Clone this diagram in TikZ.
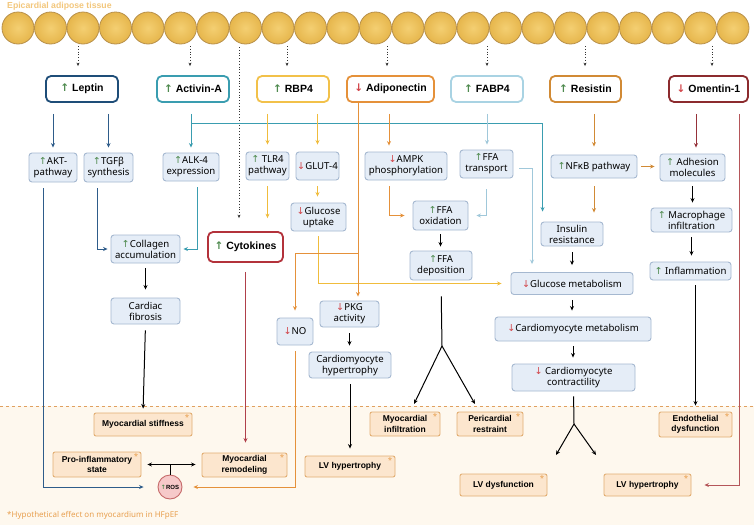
\documentclass[tikz,border=0pt]{standalone}
\usepackage{fontspec}
\setmainfont{Noto Sans}
\newfontfamily\hfont{Liberation Sans}
\newfontfamily\dvfont{DejaVu Sans}
\usetikzlibrary{arrows.meta}
\definecolor{navy}{HTML}{1E4D78}
\definecolor{navyl}{HTML}{2E5C8A}
\definecolor{tealc}{HTML}{3A9DB0}
\definecolor{goldc}{HTML}{F2C14A}
\definecolor{goldl}{HTML}{F0BC3C}
\definecolor{adipoc}{HTML}{E5913A}
\definecolor{fabc}{HTML}{A9D3E3}
\definecolor{fabl}{HTML}{A0C8DA}
\definecolor{resc}{HTML}{D18A35}
\definecolor{omec}{HTML}{8C2B2E}
\definecolor{omel}{HTML}{96323A}
\definecolor{rosel}{HTML}{B5565A}
\definecolor{cytc}{HTML}{B3323B}
\definecolor{cytl}{HTML}{B0404A}
\definecolor{boxfl}{HTML}{E5EDF7}
\definecolor{boxln}{HTML}{A5B8D0}
\definecolor{obfl}{HTML}{FCE6CE}
\definecolor{obln}{HTML}{E2AE72}
\definecolor{rosfl}{HTML}{F6C9C9}
\definecolor{rosln}{HTML}{C66A6A}
\definecolor{upg}{HTML}{4E8A4E}
\definecolor{dnr}{HTML}{D2454A}
\definecolor{sepc}{HTML}{E0A060}
\definecolor{astc}{HTML}{E8A050}
\definecolor{titc}{HTML}{F3C77C}
\definecolor{cream}{HTML}{FEF8EE}
\definecolor{circin}{HTML}{F4CF72}
\definecolor{circout}{HTML}{E6B64C}
\definecolor{circln}{HTML}{B8904A}
\newcommand\upa{{\dvfont\color{upg}↑}}
\newcommand\dna{{\dvfont\color{dnr}↓}}
\begin{document}
\begin{tikzpicture}[x=1pt,y=-1pt,
  hdr/.style={draw, rounded corners=5pt, line width=1.8pt, fill=white, minimum height=26pt, inner sep=1pt, font=\hfont\bfseries\fontsize{10.5}{12}\selectfont},
  sbox/.style={draw=boxln, fill=boxfl, rounded corners=3pt, line width=0.9pt, inner sep=1pt, align=center, font=\fontsize{9.6}{11}\selectfont},
  obox/.style={draw=obln, fill=obfl, rounded corners=2pt, line width=0.9pt, inner sep=1pt, align=center, font=\hfont\bfseries\fontsize{8.5}{10.5}\selectfont,
    label={[anchor=north east, inner sep=0pt, xshift=-3pt, yshift=-2pt, text=astc, font=\fontsize{8}{8}\selectfont]north east:*}},
  con/.style={line width=1pt, -{Stealth[length=4.5pt,width=4pt]}},
  dotc/.style={line width=0.8pt, dotted, black!80, -{Stealth[length=3.5pt,width=3pt]}},
]
\useasboundingbox (0,0) rectangle (754,525);
\fill[white] (0,0) rectangle (754,525);
\fill[cream] (0,406) rectangle (754,525);
\draw[sepc, line width=0.9pt, dash pattern=on 3pt off 3pt] (0,406) -- (754,406);

% adipose cells
\foreach \i in {0,...,22}{
  \shade[inner color=circin, outer color=circout] (18+32.5*\i,28) circle (16pt);
  \draw[circln, line width=0.8pt] (18+32.5*\i,28) circle (16pt);
}
\node[anchor=west, text=titc, font=\hfont\bfseries\fontsize{8.7}{10}\selectfont, inner sep=0pt] (title) at (7,6) {Epicardial adipose tissue};

% headers
\node[hdr, draw=navy, minimum width=72pt] (leptin) at (82,89) {\upa\ Leptin};
\node[hdr, draw=tealc, minimum width=72pt] (activin) at (193,89) {\upa\ Activin-A};
\node[hdr, draw=goldc, minimum width=72pt] (rbp4) at (293,89) {\upa\ RBP4};
\node[hdr, draw=adipoc, minimum width=87pt] (adipo) at (390.5,89) {\dna\ Adiponectin};
\node[hdr, draw=fabc, minimum width=72pt] (fabp4) at (487,89) {\upa\ FABP4};
\node[hdr, draw=resc, minimum width=71pt] (resistin) at (585.5,89) {\upa\ Resistin};
\node[hdr, draw=omec, minimum width=79pt] (omentin) at (708.5,89) {\dna\ Omentin-1};

% second row
\node[sbox, minimum width=48pt, minimum height=29pt] (akt) at (53,167.5) {\upa AKT-\\pathway};
\node[sbox, minimum width=49pt, minimum height=29pt] (tgfb) at (108.5,167.5) {\upa TGFβ\\synthesis};
\node[sbox, minimum width=56pt, minimum height=28pt] (alk4) at (191,167) {\upa ALK-4\\expression};
\node[sbox, minimum width=43pt, minimum height=28pt] (tlr4) at (267.5,166) {\upa\ TLR4\\pathway};
\node[sbox, minimum width=43pt, minimum height=28pt] (glut4) at (317.5,166) {\dna GLUT-4};
\node[sbox, minimum width=82pt, minimum height=28pt] (ampk) at (406,166) {\dna AMPK\\phosphorylation};
\node[sbox, minimum width=53pt, minimum height=28pt] (ffat) at (486.5,164) {\upa FFA\\transport};
\node[sbox, minimum width=86pt, minimum height=23pt] (nfkb) at (594,166.5) {\upa NFκB pathway};
\node[sbox, minimum width=65pt, minimum height=27pt] (adhesion) at (692.5,167.5) {\upa\ Adhesion\\molecules};

% third row and below
\node[sbox, minimum width=69pt, minimum height=28pt] (collagen) at (145.5,249) {\upa Collagen\\accumulation};
\node[hdr, draw=cytc, minimum width=75pt, minimum height=30pt] (cytokines) at (245.5,247) {\upa\ Cytokines};
\node[sbox, minimum width=55pt, minimum height=28pt] (gupt) at (318.5,217) {\dna Glucose\\uptake};
\node[sbox, minimum width=55pt, minimum height=29pt] (ffaox) at (440.5,215.5) {\upa FFA\\oxidation};
\node[sbox, minimum width=62pt, minimum height=29pt] (ffadep) at (441,265.5) {\upa FFA\\deposition};
\node[sbox, minimum width=62pt, minimum height=24pt] (insulin) at (572,234) {Insulin\\resistance};
\node[sbox, minimum width=81pt, minimum height=24pt] (macro) at (691.5,220) {\upa\ Macrophage\\infiltration};
\node[sbox, minimum width=81pt, minimum height=18pt] (inflam) at (690.5,271) {\upa\ Inflammation};
\node[sbox, minimum width=122pt, minimum height=22pt] (glumet) at (572,283.5) {\dna Glucose metabolism};
\node[sbox, minimum width=156pt, minimum height=24pt] (cmmet) at (573,329) {\dna Cardiomyocyte metabolism};
\node[sbox, minimum width=123pt, minimum height=27pt] (cmcon) at (573.5,377.5) {\dna\ Cardiomyocyte\\contractility};
\node[sbox, minimum width=69pt, minimum height=26pt] (fibrosis) at (145.5,311) {Cardiac\\fibrosis};
\node[sbox, minimum width=36pt, minimum height=27pt] (no) at (295,331.5) {\dna NO};
\node[sbox, minimum width=59pt, minimum height=26pt] (pkg) at (349.5,314) {\dna PKG\\activity};
\node[sbox, minimum width=82pt, minimum height=26pt] (cmhyp) at (350,365) {Cardiomyocyte\\hypertrophy};

% bottom outcomes
\node[obox, minimum width=98pt, minimum height=23pt] (stiff) at (143,424.5) {Myocardial stiffness};
\node[obox, minimum width=88pt, minimum height=25pt] (proinf) at (97,464.5) {Pro-inflammatory\\state};
\node[obox, minimum width=85pt, minimum height=24pt] (remod) at (244.5,465) {Myocardial\\remodeling};
\node[circle, draw=rosln, fill=rosfl, line width=0.9pt, minimum size=24pt, inner sep=0pt, font=\hfont\bfseries\fontsize{6}{6}\selectfont] (ros) at (170,487) {\upa ROS};
\node[obox, minimum width=90pt, minimum height=21pt] (lvhypa) at (350,466.5) {LV hypertrophy};
\node[obox, minimum width=70pt, minimum height=24pt] (infil) at (405,424) {Myocardial\\infiltration};
\node[obox, minimum width=66pt, minimum height=24pt] (peri) at (490,424) {Pericardial\\restraint};
\node[obox, minimum width=73pt, minimum height=25pt] (endo) at (695.5,424.5) {Endothelial\\dysfunction};
\node[obox, minimum width=87pt, minimum height=22pt] (lvdys) at (503.5,485) {LV dysfunction};
\node[obox, minimum width=87pt, minimum height=22pt] (lvhypb) at (647.5,485) {LV hypertrophy};

\node[anchor=west, text=astc, font=\fontsize{8}{10}\selectfont, inner sep=0pt] (foot) at (7,515) {*Hypothetical effect on myocardium in HFpEF};

% dotted secretion arrows
\coordinate (dL) at (78,46);
\coordinate (dA) at (190,46);
\coordinate (dR) at (287,46);
\coordinate (dD) at (387,46);
\coordinate (dF) at (487,46);
\coordinate (dS) at (585,46);
\coordinate (dO) at (712,46);
\coordinate (dC) at (239,47);
\draw[dotc, shorten >=9pt] (dL) -- (dL |- leptin.north);
\draw[dotc, shorten >=9pt] (dA) -- (dA |- activin.north);
\draw[dotc, shorten >=9pt] (dR) -- (dR |- rbp4.north);
\draw[dotc, shorten >=9pt] (dD) -- (dD |- adipo.north);
\draw[dotc, shorten >=9pt] (dF) -- (dF |- fabp4.north);
\draw[dotc, shorten >=9pt] (dS) -- (dS |- resistin.north);
\draw[dotc, shorten >=9pt] (dO) -- (dO |- omentin.north);
\draw[dotc, shorten >=13pt] (dC) -- (dC |- cytokines.north);

% leptin
\draw[con, navyl, shorten <=11pt, shorten >=5pt] (leptin.south -| akt.north) -- (akt.north);
\draw[con, navyl, shorten <=11pt, shorten >=5pt] (leptin.south -| tgfb.north) -- (tgfb.north);
\draw[con, navyl, shorten <=6pt, shorten >=3pt] ([xshift=-11.5pt]tgfb.south) |- (collagen.west);
\draw[con, navyl, shorten <=6pt, shorten >=14pt] ([xshift=-10pt]akt.south) |- (ros.west);

% activin
\coordinate (tb) at (191,123);
\draw[con, tealc, shorten <=11pt, shorten >=5pt] (activin.south -| alk4.north) -- (alk4.north);
\draw[con, tealc, shorten >=10pt] (tb) -| ([xshift=2pt]insulin.north west);
\draw[con, tealc, shorten <=6pt, shorten >=3pt] ([xshift=6pt]alk4.south) |- (collagen.east);

% fibrosis chain
\draw[con, black, shorten <=5pt, shorten >=8pt] (collagen.south) -- (fibrosis.north);
\draw[con, black, shorten <=6pt, shorten >=4pt] (fibrosis.south) -- (stiff.north);

% cytokines
\draw[con, cytl, shorten <=9pt, shorten >=10pt] (cytokines.south) -- (cytokines.south |- remod.north);

% RBP4
\draw[con, goldl, shorten <=11pt, shorten >=7pt] (rbp4.south -| tlr4.north) -- (tlr4.north);
\draw[con, goldl, shorten <=11pt, shorten >=7pt] (rbp4.south -| glut4.north) -- (glut4.north);
\draw[con, goldl, shorten <=6pt, shorten >=13pt] (tlr4.south) -- (tlr4.south |- cytokines.north);
\draw[con, goldl, shorten <=6pt, shorten >=6pt] (glut4.south) -- (glut4.south |- gupt.north);
\draw[con, goldl, shorten <=5pt, shorten >=9pt] (gupt.south) |- (glumet.west);

% adiponectin
\coordinate (adb) at (358,253);
\draw[con, adipoc, shorten >=4pt] ([xshift=-32.5pt]adipo.south) -- ([xshift=8.5pt]pkg.north);
\draw[con, adipoc, shorten >=7pt] (adb) -| (no.north);
\draw[con, adipoc, shorten <=11pt, shorten >=6pt] ([xshift=-1.5pt]adipo.south) -- ([xshift=-17pt]ampk.north);
\draw[con, adipoc, shorten <=6pt, shorten >=8pt] ([xshift=-17pt]ampk.south) |- (ffaox.west);
\draw[con, adipoc, shorten <=6pt, shorten >=11pt] (no.south) |- (ros.east);

% FABP4
\draw[con, fabl, shorten <=11pt, shorten >=5pt] (fabp4.south) -- (fabp4.south |- ffat.north);
\draw[con, fabl, shorten <=11pt, shorten >=8pt] (ffat.south) |- (ffaox.east);
\draw[con, fabl, shorten <=6pt, shorten >=8pt] ([yshift=-4pt]ffat.east) -| ([xshift=-40pt]glumet.north);
\draw[con, black, shorten <=4pt, shorten >=4pt] (ffaox.south) -- (ffaox.south |- ffadep.north);

% FFA fork
\coordinate (fa) at (442,346);
\coordinate (fal) at (414,404);
\coordinate (far) at (475,404);
\draw[line width=1pt, black, shorten <=16pt] (ffadep.south) -- (fa);
\draw[con, black] (fa) -- (fal);
\draw[con, black] (fa) -- (far);

% PKG chain
\draw[con, black, shorten <=6pt, shorten >=6pt] (pkg.south) -- (pkg.south |- cmhyp.north);
\draw[con, black, shorten <=6pt, shorten >=7pt] (cmhyp.south) -- (cmhyp.south |- lvhypa.north);

% resistin
\draw[con, resc, shorten <=11pt, shorten >=8pt] (resistin.south -| nfkb.north) -- (nfkb.north);
\draw[con, resc, shorten <=4pt, shorten >=5pt] (nfkb.east) -- (nfkb.east -| adhesion.west);
\draw[con, resc, shorten <=8pt, shorten >=9pt] (nfkb.south) -- (nfkb.south |- insulin.north);
\draw[con, black, shorten <=6pt, shorten >=7pt] (insulin.south) -- (insulin.south |- glumet.north);
\draw[con, black, shorten <=5pt, shorten >=6pt] (glumet.south) -- (glumet.south |- cmmet.north);
\draw[con, black, shorten <=5pt, shorten >=6pt] (cmmet.south) -- (cmmet.south |- cmcon.north);

% contractility fork
\coordinate (fb) at (574,424);
\coordinate (fbl) at (556,455);
\coordinate (fbr) at (596,455);
\draw[line width=1pt, black, shorten <=5pt] (cmcon.south) -- (fb);
\draw[con, black] (fb) -- (fbl);
\draw[con, black] (fb) -- (fbr);

% omentin
\draw[con, omel, shorten <=11pt, shorten >=6pt] ([xshift=-12.5pt]omentin.south) -- ([xshift=3.5pt]adhesion.north);
\draw[con, rosel, shorten <=11pt, shorten >=13pt] ([xshift=30.5pt]omentin.south) |- (lvhypb.east);
\draw[con, black, shorten <=5pt, shorten >=5pt] (adhesion.south) -- (adhesion.south |- macro.north);
\draw[con, black, shorten <=5pt, shorten >=6pt] (macro.south) -- (macro.south |- inflam.north);
\draw[con, black, shorten <=5pt, shorten >=6pt] (inflam.south -| endo.north) -- (endo.north);

% pro-inflammatory <-> remodeling, ROS
\draw[line width=1pt, {Stealth[length=4.5pt,width=4pt]}-{Stealth[length=4.5pt,width=4pt]}, shorten <=6pt, shorten >=6pt] (proinf.east) -- (proinf.east -| remod.west);
\draw[line width=1pt] (ros.north) -- (ros.north |- proinf.east);
\end{tikzpicture}
\end{document}
